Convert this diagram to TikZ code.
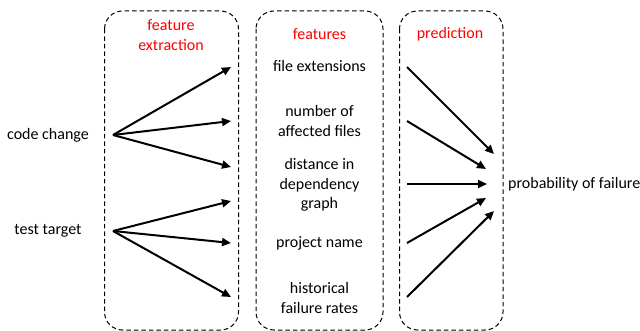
\documentclass[tikz,border=0pt]{standalone}
\usepackage{fontspec}
\setmainfont{Carlito}
\usetikzlibrary{arrows.meta}
\definecolor{hdred}{RGB}{255,0,0}
\tikzset{
  panel/.style={draw=black, line width=1pt, dash pattern=on 4.5pt off 3pt, rounded corners=18pt},
  lbl/.style={inner sep=0pt, align=center, font=\fontsize{16}{19.5}\selectfont},
  hdr/.style={lbl, text=hdred},
  arr/.style={line width=2pt, -{Triangle[length=9pt,width=8pt]}}
}
\begin{document}
\begin{tikzpicture}[x=1pt,y=-1pt]
\useasboundingbox (0,0) rectangle (640,331);
% panels
\draw[panel] (104.5,11) rectangle (238.5,330);
\draw[panel] (256,11) rectangle (383,330);
\draw[panel] (399.5,11) rectangle (503,330);
% headers
\node[hdr] (h1) at (171,35) {feature\\extraction};
\node[hdr] (h2) at (319.5,34) {features};
\node[hdr] (h3) at (450,34) {prediction};
% inputs
\node[lbl] (cc) at (48,135) {code change};
\node[lbl] (tt) at (48,231) {test target};
% features
\node[lbl] (f1) at (319.5,66) {file extensions};
\node[lbl] (f2) at (319.5,121) {number of\\affected files};
\node[lbl] (f3) at (319.5,185) {distance in\\dependency\\graph};
\node[lbl] (f4) at (319.5,243) {project name};
\node[lbl] (f5) at (319.5,298) {historical\\failure rates};
% output
\node[lbl, anchor=west] (out) at (508,184) {probability of failure};
% arrow endpoints
\coordinate (ccs) at (113,135);
\coordinate (tts) at (113,231);
\coordinate (e1) at (231,67);
\coordinate (e2) at (231,121);
\coordinate (e3) at (231,167);
\coordinate (e4) at (231,201);
\coordinate (e5) at (231,243);
\coordinate (e6) at (231,297);
\coordinate (p1) at (407,67);
\coordinate (p2) at (407,121);
\coordinate (p3) at (407,184);
\coordinate (p4) at (407,243);
\coordinate (p5) at (407,297);
\coordinate (q1) at (494,154);
\coordinate (q2) at (486,169);
\coordinate (q3) at (487,184);
\coordinate (q4) at (486,198);
\coordinate (q5) at (494,211);
\draw[arr] (ccs) -- (e1);
\draw[arr] (ccs) -- (e2);
\draw[arr] (ccs) -- (e3);
\draw[arr] (tts) -- (e4);
\draw[arr] (tts) -- (e5);
\draw[arr] (tts) -- (e6);
\draw[arr] (p1) -- (q1);
\draw[arr] (p2) -- (q2);
\draw[arr] (p3) -- (q3);
\draw[arr] (p4) -- (q4);
\draw[arr] (p5) -- (q5);
\end{tikzpicture}
\end{document}
